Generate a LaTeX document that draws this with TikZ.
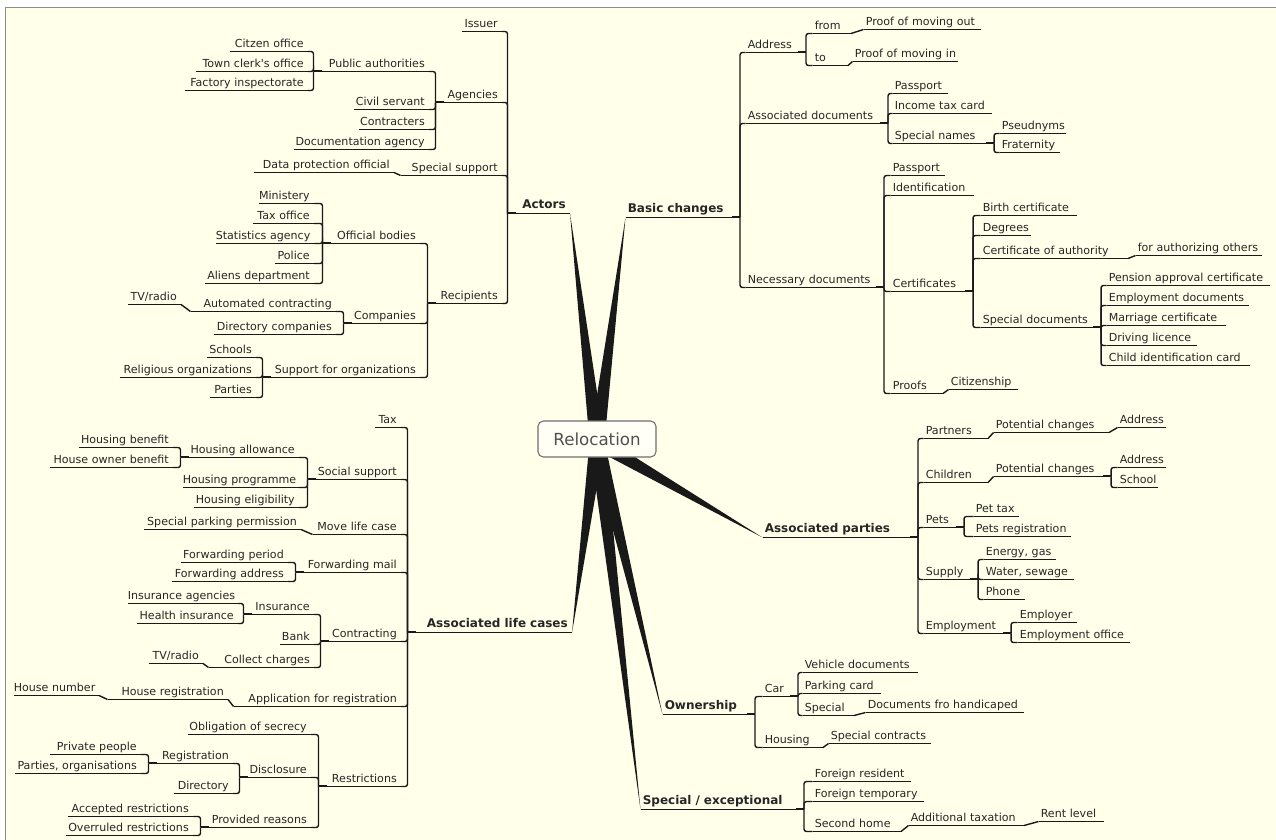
\documentclass[tikz,border=0pt]{standalone}
\usepackage{fontspec}
\setmainfont{DejaVu Sans}
\usetikzlibrary{calc}
\definecolor{bg}{RGB}{255,255,234}
\definecolor{frm}{RGB}{140,140,140}
\definecolor{txt}{RGB}{38,38,38}
\definecolor{lnc}{RGB}{25,25,25}
\definecolor{boxc}{RGB}{110,110,110}
\definecolor{boxt}{RGB}{80,80,80}
\tikzset{
  tn/.style={inner xsep=0pt, inner ysep=0.8pt, text height=6.4pt, text depth=1.9pt,
    font=\fontsize{8.3}{9}\selectfont, text=txt},
  mt/.style={tn, text height=7pt, text depth=2.8pt, font=\fontsize{9}{10}\selectfont\bfseries},
  ul/.style={line width=1.05pt, draw=lnc},
  cn/.style={line width=1.05pt, draw=lnc, rounded corners=1.8pt},
  stub/.style={line width=1.8pt, draw=lnc},
  wedge/.style={fill=lnc},
}
% right-side topic: style, name, x1, x2, y, text
\newcommand\NR[6][tn]{%
  \pgfmathsetmacro\xa{round(#3)+0.5}\pgfmathsetmacro\xb{round(#4)+0.5}\pgfmathsetmacro\yy{round(#5)+0.5}%
  \pgfmathsetlengthmacro\mytw{(\xb-\xa)*0.75pt}%
  \node[#1,anchor=south west,text width=\mytw,align=left] (#2) at (\xa,\yy) {\hspace*{1.5pt}\mbox{#6}};%
  \draw[ul] (#2.south west) -- (#2.south east);}
% left-side topic
\newcommand\NL[6][tn]{%
  \pgfmathsetmacro\xa{round(#3)+0.5}\pgfmathsetmacro\xb{round(#4)+0.5}\pgfmathsetmacro\yy{round(#5)+0.5}%
  \pgfmathsetlengthmacro\mytw{(\xb-\xa)*0.75pt}%
  \node[#1,anchor=south west,text width=\mytw,align=right] (#2) at (\xa,\yy) {\mbox{#6}\kern3pt};%
  \draw[ul] (#2.south west) -- (#2.south east);}
\newcommand\LB[2]{\draw[stub] ($(#1.south west)+(0,-0.4)$) -- ++(8,0);
  \foreach \c in {#2} {\draw[cn] (#1.south west) |- (\c.south east);}}
\newcommand\RB[2]{\draw[stub] ($(#1.south east)+(0,-0.4)$) -- ++(-8,0);
  \foreach \c in {#2} {\draw[cn] (#1.south east) |- (\c.south west);}}
\newcommand\LS[2]{\draw[cn] (#1.south west) -- (#2.south east);}
\newcommand\RS[2]{\draw[cn] (#1.south east) -- (#2.south west);}
\begin{document}
\begin{tikzpicture}[x=0.75pt,y=-0.75pt]
\useasboundingbox (0,0) rectangle (1276,839);
\fill[white] (0,0) rectangle (1276,839);
\draw[frm, fill=bg, line width=0.9pt] (5.5,7.5) rectangle (1290,850);

% ---------------- Actors ----------------
\NL[mt]{actors}{507}{569}{213.3}{Actors}
\NL{issuer}{461}{501}{31}{Issuer}
\NL{agencies}{435}{501}{102.3}{Agencies}
\NL{pubauth}{313}{428}{70.5}{Public authorities}
\NL{citzen}{229}{307}{50.7}{Citzen office}
\NL{townclerk}{195}{307}{70.5}{Town clerk\textquotesingle s office}
\NL{factory}{184}{307}{90}{Factory inspectorate}
\NL{civil}{353}{428}{109}{Civil servant}
\NL{contracters}{358}{428}{128.7}{Contracters}
\NL{docagency}{293}{428}{148.7}{Documentation agency}
\NL{specsupport}{400}{501}{175}{Special support}
\NL{dataprot}{253}{393}{172.3}{Data protection official}
\NL{recipients}{427}{501}{303.3}{Recipients}
\NL{offbodies}{322}{419}{243.3}{Official bodies}
\NL{ministery}{258}{313}{203}{Ministery}
\NL{taxoffice}{252}{313}{222.7}{Tax office}
\NL{statagency}{215}{313}{243.3}{Statistics agency}
\NL{police}{274}{313}{263}{Police}
\NL{aliens}{204}{313}{283}{Aliens department}
\NL{companies}{343}{419}{323}{Companies}
\NL{autocontr}{190}{335}{310.7}{Automated contracting}
\NL{tvradioa}{127}{180}{304.3}{TV/radio}
\NL{dircomp}{213}{335}{334.3}{Directory companies}
\NL{supportorg}{262}{419}{377.3}{Support for organizations}
\NL{schools}{206}{255}{357.3}{Schools}
\NL{religious}{119}{255}{377.3}{Religious organizations}
\NL{partiesa}{209}{255}{397.3}{Parties}

\LB{actors}{issuer,agencies,specsupport,recipients}
\LB{agencies}{pubauth,civil,contracters,docagency}
\LB{pubauth}{citzen,townclerk,factory}
\LS{specsupport}{dataprot}
\LB{recipients}{offbodies,companies,supportorg}
\LB{offbodies}{ministery,taxoffice,statagency,police,aliens}
\LB{companies}{autocontr,dircomp}
\LS{autocontr}{tvradioa}
\LB{supportorg}{schools,religious,partiesa}

% ---------------- Basic changes ----------------
\NR[mt]{basic}{625}{739}{216.7}{Basic changes}
\NR{address}{745}{805}{52.3}{Address}
\NR{from}{812}{850}{33.3}{from}
\NR{proofout}{863}{980}{29.3}{Proof of moving out}
\NR{to}{812}{847}{65.3}{to}
\NR{proofin}{852}{957}{61.3}{Proof of moving in}
\NR{assocdocs}{745}{887}{123.3}{Associated documents}
\NR{passporta}{892}{947}{92.7}{Passport}
\NR{incometax}{892}{991}{112.7}{Income tax card}
\NR{specnames}{892}{993}{143.3}{Special names}
\NR{pseud}{999}{1065}{132.7}{Pseudnyms}
\NR{fraternity}{999}{1059}{152.3}{Fraternity}
\NR{necdocs}{745}{883}{287.3}{Necessary documents}
\NR{passportb}{890}{944}{175}{Passport}
\NR{ident}{890}{973}{195}{Identification}
\NR{certs}{890}{972}{290.7}{Certificates}
\NR{birth}{980}{1076}{215}{Birth certificate}
\NR{degrees}{980}{1030}{235}{Degrees}
\NR{certauth}{980}{1127}{258.3}{Certificate of authority}
\NR{forauth}{1135}{1261}{255}{for authorizing others}
\NR{specdocs}{980}{1100}{326.7}{Special documents}
\NR{pension}{1106}{1269}{285}{Pension approval certificate}
\NR{empdocs}{1106}{1248}{305}{Employment documents}
\NR{marriage}{1106}{1225}{325}{Marriage certificate}
\NR{driving}{1106}{1196}{345}{Driving licence}
\NR{childid}{1106}{1249}{365}{Child identification card}
\NR{proofs}{890}{942}{392.7}{Proofs}
\NR{citizenship}{948}{1017}{389}{Citizenship}

\RB{basic}{address,assocdocs,necdocs}
\RB{address}{from,to}
\RS{from}{proofout}
\RS{to}{proofin}
\RB{assocdocs}{passporta,incometax,specnames}
\RB{specnames}{pseud,fraternity}
\RB{necdocs}{passportb,ident,certs,proofs}
\RB{certs}{birth,degrees,certauth,specdocs}
\RS{certauth}{forauth}
\RB{specdocs}{pension,empdocs,marriage,driving,childid}
\RS{proofs}{citizenship}

% ---------------- Associated life cases ----------------
\NL[mt]{alc}{407}{571}{631.7}{Associated life cases}
\NL{tax}{374}{400}{427.3}{Tax}
\NL{socsupport}{307}{400}{479}{Social support}
\NL{housallow}{180}{298}{457.3}{Housing allowance}
\NL{housbenefit}{78}{172}{446.7}{Housing benefit}
\NL{houseowner}{49}{172}{467.3}{House owner benefit}
\NL{housprog}{182}{298}{486.7}{Housing programme}
\NL{houselig}{193}{298}{506.7}{Housing eligibility}
\NL{movelife}{312}{400}{534.3}{Move life case}
\NL{specparking}{143}{300}{528.7}{Special parking permission}
\NL{fwdmail}{295}{400}{572.3}{Forwarding mail}
\NL{fwdperiod}{180}{287}{561.7}{Forwarding period}
\NL{fwdaddress}{171}{287}{581}{Forwarding address}
\NL{contracting}{320}{400}{640.7}{Contracting}
\NL{insurance}{243}{313}{614}{Insurance}
\NL{insagencies}{127}{237}{602.7}{Insurance agencies}
\NL{healthins}{136}{237}{622.7}{Health insurance}
\NL{bank}{279}{313}{643.7}{Bank}
\NL{collect}{208}{313}{667.3}{Collect charges}
\NL{tvradiob}{148}{202}{663.3}{TV/radio}
\NL{appreg}{233}{400}{705.7}{Application for registration}
\NL{housereg}{107}{227}{699}{House registration}
\NL{housenum}{13}{98}{695}{House number}
\NL{restrictions}{318}{400}{786}{Restrictions}
\NL{obligation}{187}{310}{734}{Obligation of secrecy}
\NL{disclosure}{239}{310}{776.7}{Disclosure}
\NL{registration}{148}{232}{763.3}{Registration}
\NL{privpeople}{49}{140}{754}{Private people}
\NL{partiesorg}{14}{140}{773.3}{Parties, organisations}
\NL{directory}{173}{232}{793.3}{Directory}
\NL{provreasons}{200}{310}{826.7}{Provided reasons}
\NL{accepted}{67}{192}{816}{Accepted restrictions}
\NL{overruled}{65}{192}{835}{Overruled restrictions}

\LB{alc}{tax,socsupport,movelife,fwdmail,contracting,appreg,restrictions}
\LB{socsupport}{housallow,housprog,houselig}
\LB{housallow}{housbenefit,houseowner}
\LS{movelife}{specparking}
\LB{fwdmail}{fwdperiod,fwdaddress}
\LB{contracting}{insurance,bank,collect}
\LB{insurance}{insagencies,healthins}
\LS{collect}{tvradiob}
\LS{appreg}{housereg}
\LS{housereg}{housenum}
\LB{restrictions}{obligation,disclosure,provreasons}
\LB{disclosure}{registration,directory}
\LB{registration}{privpeople,partiesorg}
\LB{provreasons}{accepted,overruled}

% ---------------- Associated parties ----------------
\NR[mt]{ap}{762}{917}{536.7}{Associated parties}
\NR{partners}{923}{987}{438.3}{Partners}
\NR{potcha}{993}{1108}{432.3}{Potential changes}
\NR{addra}{1117}{1165}{426.7}{Address}
\NR{children}{923}{987}{481.7}{Children}
\NR{potchb}{993}{1110}{475.7}{Potential changes}
\NR{addrb}{1117}{1165}{466.7}{Address}
\NR{school}{1117}{1157}{486.7}{School}
\NR{pets}{923}{963}{526.7}{Pets}
\NR{pettax}{973}{1018}{516}{Pet tax}
\NR{petsreg}{973}{1070}{535.7}{Pets registration}
\NR{supply}{923}{977}{579.3}{Supply}
\NR{energy}{983}{1055}{559.3}{Energy, gas}
\NR{water}{983}{1073}{579.3}{Water, sewage}
\NR{phone}{983}{1024}{599.3}{Phone}
\NR{employment}{923}{1010}{632.7}{Employment}
\NR{employer}{1017}{1076}{621.7}{Employer}
\NR{empoffice}{1017}{1129}{641.7}{Employment office}

\RB{ap}{partners,children,pets,supply,employment}
\RS{partners}{potcha}
\RS{potcha}{addra}
\RS{children}{potchb}
\RB{potchb}{addrb,school}
\RB{pets}{pettax,petsreg}
\RB{supply}{energy,water,phone}
\RB{employment}{employer,empoffice}

% ---------------- Ownership ----------------
\NR[mt]{own}{662}{754}{714.3}{Ownership}
\NR{car}{762}{797}{696}{Car}
\NR{vehicle}{802}{917}{672.3}{Vehicle documents}
\NR{parking}{802}{880}{692.7}{Parking card}
\NR{special}{802}{853}{715}{Special}
\NR{handicap}{865}{1023}{712.3}{Documents fro handicaped}
\NR{housing}{762}{822}{746.7}{Housing}
\NR{speccontr}{828}{930}{742.7}{Special contracts}

\RB{own}{car,housing}
\RB{car}{vehicle,parking,special}
\RS{special}{handicap}
\RS{housing}{speccontr}

% ---------------- Special / exceptional ----------------
\NR[mt]{spex}{640}{803}{809.3}{Special / exceptional}
\NR{foreignres}{812}{910}{780.7}{Foreign resident}
\NR{foreigntemp}{812}{923}{800.7}{Foreign temporary}
\NR{secondhome}{812}{900}{831}{Second home}
\NR{addtax}{908}{1023}{825}{Additional taxation}
\NR{rentlevel}{1038}{1103}{821}{Rent level}

\RB{spex}{foreignres,foreigntemp,secondhome}
\RS{secondhome}{addtax}
\RS{addtax}{rentlevel}

% ---------------- central wedges and box ----------------
\coordinate (ctr) at (597,442);
\foreach \t in {actors.south east, basic.south west, alc.south east, ap.south west, own.south west, spex.south west}
  {\fill[wedge] (\t) -- ($(ctr)!5.6pt!90:(\t)$) -- ($(ctr)!5.6pt!-90:(\t)$) -- cycle;}
\node[draw=boxc, line width=0.8pt, fill=white!55!bg, rounded corners=4pt,
      minimum width=88.5pt, minimum height=27pt, inner sep=0pt, text=boxt,
      font=\fontsize{12.5}{14}\selectfont] (reloc) at (597,439) {Relocation};
\end{tikzpicture}
\end{document}
